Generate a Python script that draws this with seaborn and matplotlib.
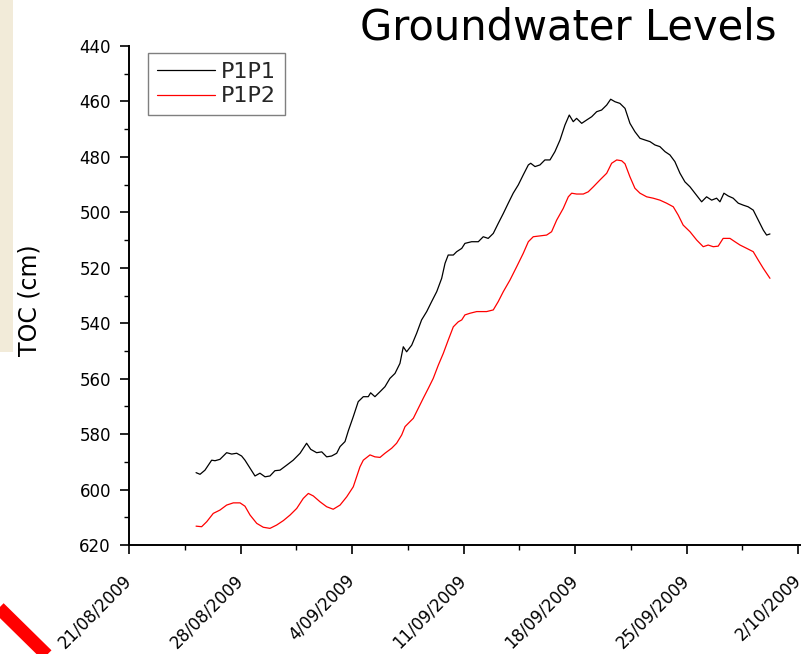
import numpy as np
import pandas as pd
import matplotlib
matplotlib.use("Agg")
import matplotlib.pyplot as plt
import matplotlib.dates as mdates
from matplotlib.ticker import AutoMinorLocator, MultipleLocator
from matplotlib.patches import Rectangle
from matplotlib.lines import Line2D
import seaborn as sns

# ---------------- data (days after 21/08/2009, TOC in cm) ----------------
start_date = "2009-08-21"

p1p1_days = [4.21, 4.46, 4.77, 5.19, 5.40, 5.71, 6.13, 6.45, 6.76, 7.07, 7.28, 7.60, 7.91,
             8.22, 8.54, 8.85, 9.16, 9.48, 9.90, 10.31, 10.74, 11.15, 11.41, 11.78, 12.10,
             12.41, 12.72, 13.04, 13.25, 13.56, 13.77, 14.08, 14.39, 14.71, 15.02, 15.17,
             15.44, 15.76, 16.07, 16.38, 16.70, 17.01, 17.22, 17.43, 17.75, 18.06, 18.37,
             18.69, 19.00, 19.32, 19.63, 19.84, 20.04, 20.36, 20.57, 20.89, 21.09, 21.51,
             21.93, 22.24, 22.55, 22.87, 23.18, 23.50, 23.81, 24.12, 24.44, 24.75, 25.07,
             25.22, 25.49, 25.80, 26.11, 26.43, 26.74, 27.06, 27.37, 27.64, 27.89, 28.10,
             28.42, 28.73, 29.05, 29.36, 29.67, 29.99, 30.24, 30.51, 30.82, 31.14, 31.45,
             31.76, 32.08, 32.39, 32.71, 33.02, 33.33, 33.65, 33.96, 34.27, 34.59, 34.90,
             35.22, 35.53, 35.95, 36.26, 36.58, 36.89, 37.10, 37.35, 37.62, 37.93, 38.25,
             38.56, 38.87, 39.19, 39.40, 39.61, 39.82, 40.03, 40.24]
p1p1_toc = [593.9, 594.5, 593.0, 589.4, 589.6, 589.1, 586.7, 587.2, 586.9, 587.9, 589.4, 592.3, 595.1,
            594.1, 595.4, 595.1, 593.2, 593.0, 591.2, 589.4, 586.9, 583.3, 585.5, 586.7, 586.4,
            588.2, 587.9, 586.9, 584.5, 582.7, 578.8, 573.7, 568.3, 566.5, 566.5, 565.1,
            566.5, 564.7, 562.9, 559.9, 558.1, 554.5, 548.5, 550.3, 547.9, 543.6, 538.8,
            535.8, 532.2, 528.6, 523.8, 518.4, 515.4, 515.4, 514.2, 513.0, 511.2, 510.6,
            510.6, 508.8, 509.4, 507.6, 504.0, 500.4, 496.7, 493.1, 490.1, 486.5, 482.9,
            482.3, 483.5, 482.9, 481.1, 481.1, 478.1, 473.9, 468.5, 464.9, 467.3, 466.1,
            467.9, 466.7, 465.5, 463.7, 463.1, 461.3, 459.2, 460.1, 460.7, 462.5, 467.9,
            470.9, 473.3, 473.9, 474.5, 475.7, 476.3, 478.1, 479.3, 481.7, 485.9, 489.0,
            490.8, 493.1, 496.2, 494.4, 495.6, 494.9, 496.2, 493.1, 494.1, 494.9, 496.7,
            497.4, 498.0, 499.2, 501.6, 504.0, 506.4, 508.2, 507.8]

p1p2_days = [4.21, 4.56, 4.88, 5.29, 5.71, 6.13, 6.55, 6.97, 7.28, 7.60, 8.02, 8.43, 8.85,
             9.27, 9.69, 10.11, 10.53, 10.94, 11.26, 11.57, 11.99, 12.41, 12.82, 13.25,
             13.67, 14.08, 14.50, 14.71, 15.13, 15.44, 15.76, 16.07, 16.49, 16.80, 17.12,
             17.33, 17.64, 17.85, 18.16, 18.47, 18.79, 19.10, 19.42, 19.73, 20.04, 20.36,
             20.67, 20.89, 21.09, 21.41, 21.83, 22.45, 22.87, 23.18, 23.50, 23.92, 24.34,
             24.75, 25.07, 25.38, 25.80, 26.22, 26.53, 26.85, 27.26, 27.58, 27.79, 28.10,
             28.52, 28.83, 29.15, 29.57, 29.99, 30.30, 30.62, 30.93, 31.14, 31.45, 31.76,
             32.08, 32.50, 32.91, 33.33, 33.75, 34.17, 34.48, 34.79, 35.22, 35.64, 36.05,
             36.36, 36.68, 36.99, 37.30, 37.73, 38.04, 38.36, 38.78, 39.19, 39.50, 39.82, 40.24]
p1p2_toc = [613.2, 613.4, 611.6, 608.6, 607.4, 605.6, 604.8, 604.8, 606.0, 609.2, 612.2, 613.6, 614.0,
            612.8, 611.2, 609.2, 606.8, 603.2, 601.4, 602.3, 604.4, 606.2, 607.1, 605.6,
            602.6, 599.0, 591.8, 589.4, 587.5, 588.2, 588.4, 586.9, 585.1, 583.3, 580.3,
            577.3, 575.5, 574.3, 570.7, 567.1, 563.5, 559.9, 555.1, 550.9, 546.1, 541.3,
            539.5, 538.8, 537.0, 536.4, 535.8, 535.8, 535.2, 532.2, 528.6, 524.4, 519.6,
            514.8, 510.6, 508.8, 508.5, 508.2, 507.0, 502.8, 498.6, 494.4, 493.1, 493.4,
            493.4, 492.6, 490.8, 488.3, 485.9, 482.3, 481.1, 481.4, 482.5, 487.2, 491.3,
            493.1, 494.4, 494.9, 495.6, 496.7, 498.0, 501.0, 504.6, 507.0, 510.0, 512.4,
            511.8, 512.4, 512.2, 509.4, 509.4, 510.6, 511.8, 513.0, 514.2, 517.2, 520.2, 523.8]

series_names = ["P1P1", "P1P2"]
series_colors = ["black", "red"]

tick_dates = ["2009-08-21", "2009-08-28", "2009-09-04", "2009-09-11",
              "2009-09-18", "2009-09-25", "2009-10-02"]
tick_labels = ["21/08/2009", "28/08/2009", "4/09/2009", "11/09/2009",
               "18/09/2009", "25/09/2009", "2/10/2009"]
y_ticks = [440, 460, 480, 500, 520, 540, 560, 580, 600, 620]

# ---------------- build table ----------------
t0 = pd.Timestamp(start_date)
frames = []
for name, d, v in [(series_names[0], p1p1_days, p1p1_toc),
                   (series_names[1], p1p2_days, p1p2_toc)]:
    frames.append(pd.DataFrame({
        "date": t0 + pd.to_timedelta(np.array(d), unit="D"),
        "TOC": v,
        "series": name,
    }))
df = pd.concat(frames, ignore_index=True)

# ---------------- style ----------------
sns.set_theme(style="ticks")
plt.rcParams["font.family"] = ["DejaVu Sans"]

W, H = 811, 654
fig = plt.figure(figsize=(W / 100, H / 100), dpi=100)
fig.patch.set_facecolor("white")

# slide decorations
fig.patches.append(Rectangle((0, 1 - 352 / H), 13 / W, 352 / H,
                             transform=fig.transFigure, facecolor="#f2ebd9",
                             edgecolor="none", zorder=0))
fig.lines.append(Line2D([-6 / W, 56 / W], [1 - 603 / H, 1 - 664 / H],
                        transform=fig.transFigure, color="red", lw=9.5,
                        solid_capstyle="butt", zorder=1))

ax = fig.add_axes([129 / W, 1 - 545 / H, (800 - 129) / W, (545 - 46) / H])
ax.set_facecolor("white")

sns.lineplot(data=df, x="date", y="TOC", hue="series",
             palette=dict(zip(series_names, series_colors)),
             estimator=None, sort=True, linewidth=0.9, ax=ax)

# axes
ax.set_ylim(620, 440)
ax.set_yticks(y_ticks)
ax.yaxis.set_minor_locator(MultipleLocator(10))

xt = [mdates.date2num(pd.Timestamp(d)) for d in tick_dates]
ax.set_xlim(xt[0], xt[-1] + 2 / 15.93)
ax.set_xticks(xt)
ax.set_xticklabels(tick_labels, rotation=45, ha="right", va="center",
                   rotation_mode="anchor")
ax.xaxis.set_minor_locator(AutoMinorLocator(2))

for s in ["top", "right"]:
    ax.spines[s].set_visible(False)
for s in ["left", "bottom"]:
    ax.spines[s].set_linewidth(1.4)
    ax.spines[s].set_color("black")

ax.tick_params(axis="both", which="major", direction="out", length=6.5,
               width=1.2, colors="black", labelsize=12)
ax.tick_params(axis="both", which="minor", direction="out", length=3.8,
               width=1.0, colors="black")
ax.tick_params(axis="x", which="major", pad=17)
ax.tick_params(axis="y", which="major", pad=6.5)

ax.set_xlabel("")
ax.set_ylabel("TOC (cm)", fontsize=17, color="black")
ax.yaxis.set_label_coords(-0.131, 0.49)

handles, labels = ax.get_legend_handles_labels()
leg = ax.legend(handles, labels, loc="upper left",
                bbox_to_anchor=(148 / W, 1 - 53 / H), bbox_transform=fig.transFigure,
                borderaxespad=0, fontsize=16, frameon=True, fancybox=False,
                edgecolor="#7f7f7f", framealpha=1, borderpad=0.4,
                handlelength=2.6, handletextpad=0.3, labelspacing=0.2)
leg.get_frame().set_linewidth(1.0)

fig.text(777 / W, 1 - 39 / H, "Groundwater Levels", ha="right", va="baseline",
         fontsize=30, color="black")

fig.savefig("out.png", dpi=100)
